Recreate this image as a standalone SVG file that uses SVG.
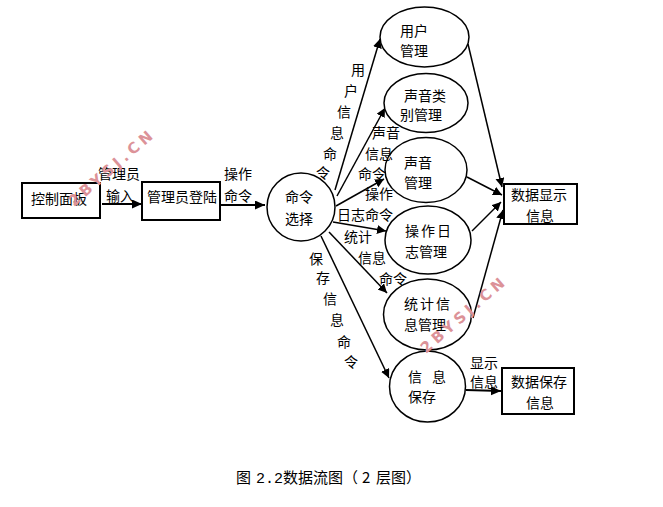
<svg xmlns="http://www.w3.org/2000/svg" width="663" height="507" viewBox="0 0 663 507">
<style>
text{font-family:"Noto Sans CJK SC","Noto Sans CJK JP",sans-serif;font-size:14px;fill:#000;font-weight:400}
.b{fill:#fff;stroke:#000;stroke-width:2}
.e{fill:#fff;stroke:#000;stroke-width:1.5}
.c{fill:none;stroke:#000;stroke-width:1.5;marker-end:url(#a)}
.t{fill:none;stroke:#000;stroke-width:2;marker-end:url(#a2)}
.w{font-family:"DejaVu Sans",sans-serif;font-size:15px;font-weight:700;fill:#dc9298;letter-spacing:4px}
.cap{font-size:15px}
</style>
<defs>
<marker id="a" markerUnits="userSpaceOnUse" markerWidth="10" markerHeight="10" refX="9" refY="4.500" orient="auto"><path d="M0 0L9 4.500L0 9Z" fill="#000"/></marker>
<marker id="a2" markerUnits="userSpaceOnUse" markerWidth="11" markerHeight="10" refX="10" refY="4.500" orient="auto"><path d="M0 0L10 4.500L0 9Z" fill="#000"/></marker>
</defs>
<g id="connectors">
<path class="t" d="M102 204H142"/>
<path class="t" d="M220 205H265"/>
<path class="c" d="M335 190L380 39"/>
<path class="c" d="M337 196L385 108"/>
<path class="c" d="M336 206L384 179"/>
<path class="c" d="M333 222L386 231"/>
<path class="c" d="M329 232L387 293"/>
<path class="c" d="M321 236L389 378"/>
<path class="c" d="M468 44L502 187"/>
<path class="c" d="M467 177L502 195"/>
<path class="c" d="M472 231L501 202"/>
<path class="c" d="M473 318L503 210"/>
<path class="t" d="M466 390L501 391"/>
</g>
<g id="n-control"><rect class="b" x="22" y="183" width="78" height="35"/><text x="31" y="204">控制面板</text></g>
<g id="n-admin"><rect class="b" x="142" y="182" width="78" height="38"/><text x="147" y="202">管理员登陆</text></g>
<g id="n-select"><circle class="e" cx="301" cy="207" r="34"/><text x="285" y="202">命令</text><text x="285" y="224">选择</text></g>
<g id="n-user"><ellipse class="e" cx="424.500" cy="37" rx="44.500" ry="30"/><text x="400" y="36">用户</text><text x="400" y="56">管理</text></g>
<g id="n-cat"><ellipse class="e" cx="426" cy="103" rx="42" ry="29.500"/><text x="404" y="101">声音类</text><text x="400" y="120">别管理</text></g>
<g id="n-sound"><ellipse class="e" cx="426" cy="170" rx="41" ry="32.500"/><text x="404" y="168">声音</text><text x="404" y="188">管理</text></g>
<g id="n-log"><ellipse class="e" cx="428" cy="240" rx="43" ry="34"/><text x="405" y="236" letter-spacing="2">操作日</text><text x="405" y="257">志管理</text></g>
<g id="n-stat"><ellipse class="e" cx="427.500" cy="314.500" rx="44" ry="35.500"/><text x="404" y="309" letter-spacing="2">统计信</text><text x="404" y="330">息管理</text></g>
<g id="n-save"><ellipse class="e" cx="427.500" cy="386.500" rx="38" ry="35.500"/><text x="408" y="382">信</text><text x="432" y="382">息</text><text x="408" y="402">保存</text></g>
<g id="n-display"><rect class="b" x="504" y="184" width="73" height="40"/><text x="511" y="200">数据显示</text><text x="526" y="221">信息</text></g>
<g id="n-store"><rect class="b" x="502" y="368" width="72" height="46"/><text x="511" y="387">数据保存</text><text x="526" y="408">信息</text></g>
<g id="labels">
<text x="98" y="179">管理员</text><text x="106" y="201">输入</text>
<text x="224" y="179">操作</text><text x="224" y="201">命令</text>
<text x="351" y="75">用</text><text x="344" y="96">户</text><text x="337" y="117">信</text><text x="330" y="138">息</text><text x="323" y="159">命</text><text x="316" y="178">令</text>
<text x="372" y="138">声音</text><text x="365" y="159">信息</text><text x="358" y="179">命令</text>
<text x="365" y="199">操作</text><text x="337" y="220">日志命令</text>
<text x="344" y="242">统计</text><text x="358" y="263">信息</text><text x="379" y="284">命令</text>
<text x="309" y="264">保</text><text x="316" y="283">存</text><text x="323" y="304">信</text><text x="330" y="325">息</text><text x="337" y="347">命</text><text x="344" y="367">令</text>
<text x="470" y="368">显示</text><text x="470" y="387">信息</text>
<text class="cap" x="236" y="483">图</text><text class="cap" x="256" y="483" style="font-family:'Liberation Mono',monospace">2.2</text><text class="cap" x="283" y="483">数据流图（</text><text class="cap" x="362" y="483">2</text><text class="cap" x="376" y="483">层图）</text>
</g>
<text class="w" transform="translate(74 207) rotate(-41)">2BYSJ.CN</text>
<text class="w" transform="translate(426 354) rotate(-41)">2BYSJ.CN</text>
</svg>
